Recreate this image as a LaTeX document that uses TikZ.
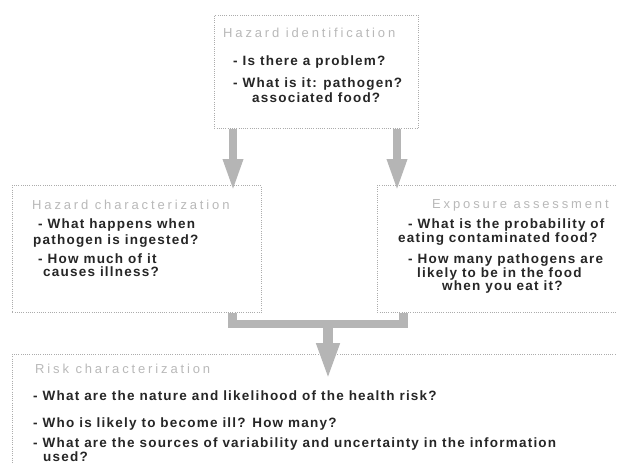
\documentclass[tikz,border=0pt]{standalone}
\usepackage{fontspec}
\setmainfont{Liberation Sans}
\newfontfamily\bodyf[LetterSpace=9]{Liberation Sans}
\newfontfamily\titlef[LetterSpace=22]{Liberation Sans}
\usetikzlibrary{arrows.meta}
\begin{document}
\begin{tikzpicture}[x=1pt,y=-1pt,
  box/.style={draw=gray!65, dash pattern=on 0.8pt off 1.4pt, line width=0.7pt,
    inner sep=0pt, anchor=north west},
  ttl/.style={anchor=base west, inner sep=0pt,
    font=\titlef\fontsize{13}{15}\selectfont, text=gray!55},
  txt/.style={anchor=base west, inner sep=0pt,
    font=\bodyf\bfseries\fontsize{13.5}{16}\selectfont, text=black!85},
  flow/.style={draw=gray!58, line width=8.5pt, line join=miter},
  arr/.style={flow, -{Triangle[width=18pt,length=33pt]}}
]
\useasboundingbox (0,0) rectangle (617,463);
\clip (0,0) rectangle (617,463);
\fill[white] (0,0) rectangle (617,463);

% boxes
\node[box, minimum width=204pt, minimum height=113pt] (hi) at (214,15) {};
\node[box, minimum width=249pt, minimum height=127pt] (hc) at (12,185) {};
\node[box, minimum width=280pt, minimum height=127pt] (ea) at (377,185) {};
\node[box, minimum width=650pt, minimum height=150pt] (rc) at (12,354) {};

% hazard identification
\node[ttl] (hiT) at (223,37) {Hazard identification};
\node[txt] (hi1) at (233,65) {- Is there a problem?};
\node[txt] (hi2) at (233,87) {- What is it: pathogen?};
\node[txt] (hi3) at (252,102) {associated food?};

% hazard characterization
\node[ttl] (hcT) at (32,209) {Hazard characterization};
\node[txt] (hc1) at (38,228) {- What happens when};
\node[txt] (hc2) at (33,244) {pathogen is ingested?};
\node[txt] (hc3) at (38,263) {- How much of it};
\node[txt] (hc4) at (43,276) {causes illness?};

% exposure assessment
\node[ttl] (eaT) at (432,208) {Exposure assessment};
\node[txt] (ea1) at (408,228) {- What is the probability of};
\node[txt] (ea2) at (398,242) {eating contaminated food?};
\node[txt] (ea3) at (408,263) {- How many pathogens are};
\node[txt] (ea4) at (417,277) {likely to be in the food};
\node[txt] (ea5) at (442,290) {when you eat it?};

% risk characterization
\node[ttl] (rcT) at (35,373) {Risk characterization};
\node[txt] (rc1) at (33,400) {- What are the nature and likelihood of the health risk?};
\node[txt] (rc2) at (33,427) {- Who is likely to become ill? How many?};
\node[txt] (rc3) at (33,447) {- What are the sources of variability and uncertainty in the information};
\node[txt] (rc4) at (43,461) {used?};

% connectors
\coordinate (cL) at (233,0);
\coordinate (cR) at (397,0);
\coordinate (mL) at (232.5,0);
\coordinate (mR) at (403.5,0);
\coordinate (jn) at (328,324);

\draw[arr, shorten >=-7pt] (hi.south -| cL) -- (hc.north -| cL);
\draw[arr, shorten >=-7pt] (hi.south -| cR) -- (ea.north -| cR);
\draw[flow] (hc.south -| mL) -- (mL |- jn) -- (mR |- jn) -- (ea.south -| mR);
\draw[flow, line width=10pt, -{Triangle[width=21pt,length=37pt]}, shorten >=-26pt]
  (jn) -- (rc.north -| jn);
\end{tikzpicture}
\end{document}
